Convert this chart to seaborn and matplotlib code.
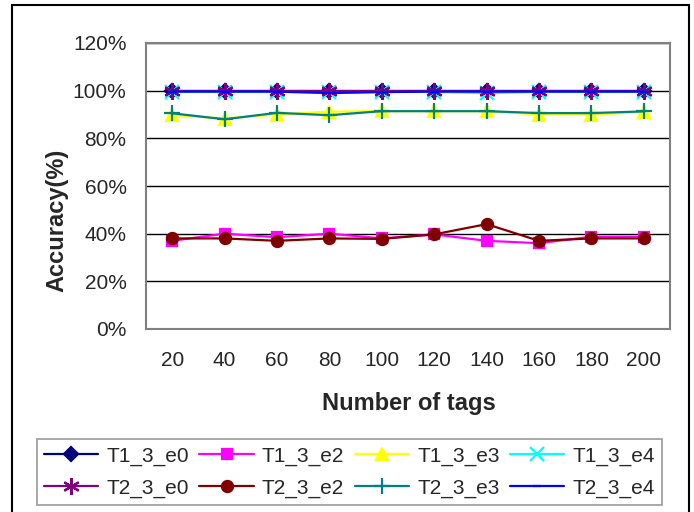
import matplotlib
matplotlib.use("Agg")
import matplotlib.pyplot as plt
import seaborn as sns
import pandas as pd
from matplotlib.patches import Rectangle
from matplotlib.ticker import FuncFormatter

tags = ["20", "40", "60", "80", "100", "120", "140", "160", "180", "200"]
series_names = ["T1_3_e0", "T1_3_e2", "T1_3_e3", "T1_3_e4",
                "T2_3_e0", "T2_3_e2", "T2_3_e3", "T2_3_e4"]

T1_3_e0 = [99.8, 99.8, 99.8, 99.8, 99.8, 99.8, 99.8, 99.8, 99.8, 99.8]
T1_3_e2 = [37.0, 40.0, 38.5, 40.0, 38.0, 39.7, 37.0, 36.0, 38.7, 38.7]
T1_3_e3 = [89.8, 88.3, 90.0, 91.2, 91.4, 91.4, 91.4, 90.0, 90.0, 91.0]
T1_3_e4 = [99.5, 99.5, 99.5, 99.3, 99.5, 99.5, 99.0, 99.5, 99.5, 99.5]
T2_3_e0 = [100.0, 100.0, 100.0, 100.0, 100.0, 100.0, 100.0, 100.0, 100.0, 100.0]
T2_3_e2 = [38.0, 38.0, 37.0, 38.0, 37.8, 39.7, 44.0, 37.0, 38.0, 38.0]
T2_3_e3 = [90.5, 88.0, 90.7, 89.7, 91.4, 91.4, 91.4, 90.6, 90.6, 91.3]
T2_3_e4 = [99.6, 99.6, 99.6, 99.0, 99.4, 99.6, 99.6, 99.6, 99.6, 99.6]

values = [T1_3_e0, T1_3_e2, T1_3_e3, T1_3_e4, T2_3_e0, T2_3_e2, T2_3_e3, T2_3_e4]

rows = []
for name, vals in zip(series_names, values):
    for t, v in zip(tags, vals):
        rows.append({"tags": t, "acc": v, "series": name})
df = pd.DataFrame(rows)

palette = {"T1_3_e0": "#000080", "T1_3_e2": "#FF00FF", "T1_3_e3": "#FFFF00",
           "T1_3_e4": "#00FFFF", "T2_3_e0": "#800080", "T2_3_e2": "#800000",
           "T2_3_e3": "#008080", "T2_3_e4": "#0000FF"}
markers = {"T1_3_e0": "D", "T1_3_e2": "s", "T1_3_e3": "^", "T1_3_e4": "x",
           "T2_3_e0": (6, 2, 0), "T2_3_e2": "o", "T2_3_e3": "+", "T2_3_e4": "_"}
msizes = {"T1_3_e0": 7, "T1_3_e2": 7.5, "T1_3_e3": 9, "T1_3_e4": 10,
          "T2_3_e0": 12, "T2_3_e2": 8, "T2_3_e3": 12, "T2_3_e4": 6}

sns.set_style("white")
plt.rcParams["font.family"] = ["Liberation Sans", "DejaVu Sans"]

fig = plt.figure(figsize=(6.94, 5.12), dpi=100)
ax = fig.add_axes([146 / 694, (512 - 329) / 512, (670 - 146) / 694, (329 - 43) / 512])

for name in series_names:
    sub = df[df["series"] == name]
    sns.lineplot(data=sub, x="tags", y="acc", color=palette[name],
                 marker=markers[name], markersize=msizes[name],
                 markeredgewidth=1.6, markeredgecolor=palette[name],
                 linewidth=1.6, sort=False, label=name, ax=ax)

ax.set_xlim(-0.5, 9.5)
ax.set_ylim(0, 120)
ax.set_yticks([0, 20, 40, 60, 80, 100, 120])
ax.yaxis.set_major_formatter(FuncFormatter(lambda v, p: f"{int(v)}%"))
ax.yaxis.grid(True, color="black", linewidth=1)
ax.xaxis.grid(False)
ax.set_axisbelow(True)
for s in ax.spines.values():
    s.set_color("#808080")
    s.set_linewidth(1.5)
ax.tick_params(axis="both", length=0, labelsize=15)
ax.tick_params(axis="x", pad=16)
ax.tick_params(axis="y", pad=14)

ax.set_xlabel("Number of tags", fontsize=17, fontweight="bold")
ax.set_ylabel("Accuracy(%)", fontsize=17, fontweight="bold")
ax.xaxis.set_label_coords(0.502, -0.222)
ax.yaxis.set_label_coords(-0.149, 0.38)

handles, labels = ax.get_legend_handles_labels()
if ax.get_legend() is not None:
    ax.get_legend().remove()
hmap = dict(zip(labels, handles))
order = ["T1_3_e0", "T2_3_e0", "T1_3_e2", "T2_3_e2",
         "T1_3_e3", "T2_3_e3", "T1_3_e4", "T2_3_e4"]
leg = fig.legend([hmap[k] for k in order], order, ncol=4, loc="center",
                 bbox_to_anchor=((32 + 667) / 2 / 694, (512 - 472) / 512),
                 borderaxespad=0, fontsize=15, frameon=True,
                 fancybox=False, edgecolor="#808080", handlelength=2.6,
                 handletextpad=0.4, columnspacing=0.5, labelspacing=0.6,
                 borderpad=0.35)
leg.get_frame().set_linewidth(1.2)

fig.patches.append(Rectangle((12 / 694, -0.05), (689 - 12) / 694, 1.05 - 5 / 512,
                             transform=fig.transFigure, fill=False,
                             edgecolor="black", linewidth=1.5, clip_on=False))

fig.savefig("out.png", dpi=100)
